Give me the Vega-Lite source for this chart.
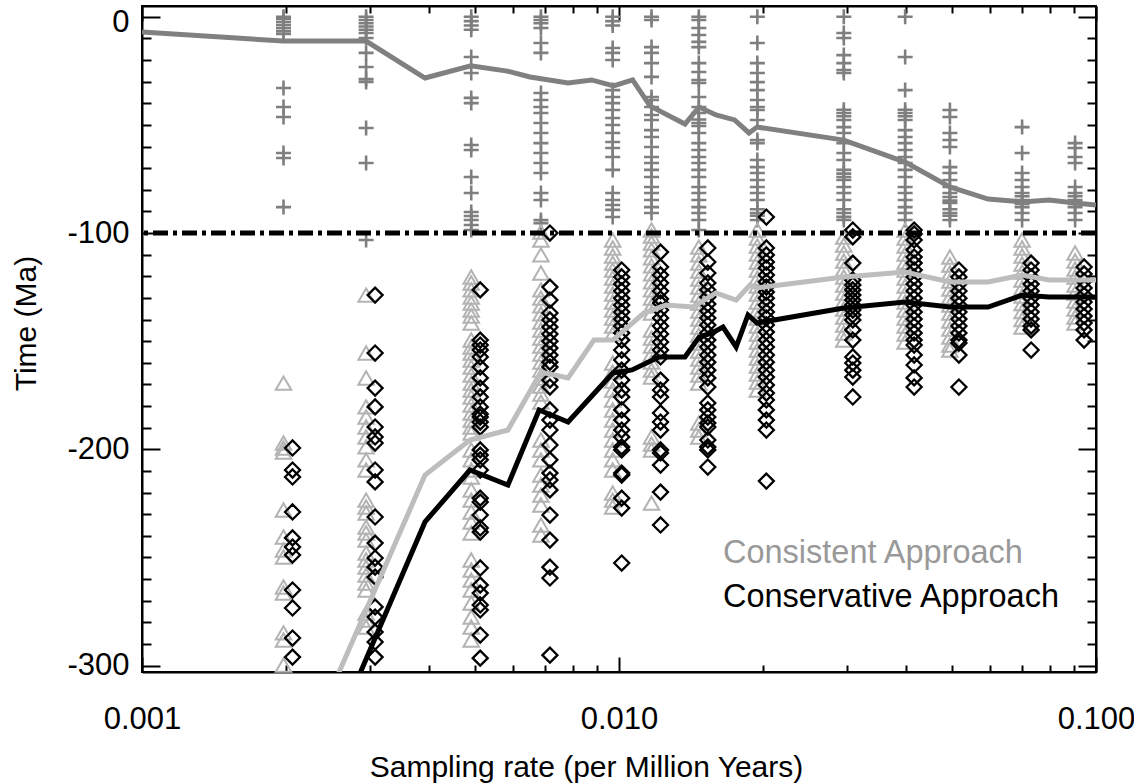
{
"$schema":"https://vega.github.io/schema/vega-lite/v6.json",
"width":954,"height":666,
"autosize":{"type":"none"},
"padding":{"left":142,"top":6,"right":38,"bottom":112},
"background":"white",
"config":{"view":{"stroke":"black","strokeWidth":2},"font":"Liberation Sans"},
"datasets":{
"cross":[
{"x":0.00198,"y":0},{"x":0.00198,"y":-1},{"x":0.00198,"y":-2.4},{"x":0.00198,"y":-3.8},{"x":0.00198,"y":-5.2},{"x":0.00198,"y":-6.6},{"x":0.00198,"y":-7.9},{"x":0.00198,"y":-32.9},{"x":0.00198,"y":-41.7},{"x":0.00198,"y":-46.3},{"x":0.00198,"y":-63},{"x":0.00198,"y":-65.3},{"x":0.00198,"y":-88},
{"x":0.00295,"y":0},{"x":0.00295,"y":-1.5},{"x":0.00295,"y":-3},{"x":0.00295,"y":-4.5},{"x":0.00295,"y":-6},{"x":0.00295,"y":-7.5},{"x":0.00295,"y":-9.8},{"x":0.00295,"y":-16.7},{"x":0.00295,"y":-23.2},{"x":0.00295,"y":-28.8},{"x":0.00295,"y":-30.1},{"x":0.00295,"y":-51.4},{"x":0.00295,"y":-67.6},{"x":0.00295,"y":-103.2},
{"x":0.0049,"y":0},{"x":0.0049,"y":-2},{"x":0.0049,"y":-4},{"x":0.0049,"y":-6},{"x":0.0049,"y":-18.6},{"x":0.0049,"y":-26},{"x":0.0049,"y":-37.5},{"x":0.0049,"y":-39.9},{"x":0.0049,"y":-59.3},{"x":0.0049,"y":-61.6},{"x":0.0049,"y":-74.1},{"x":0.0049,"y":-81.5},{"x":0.0049,"y":-90.3},{"x":0.0049,"y":-92.1},{"x":0.0049,"y":-94},{"x":0.0049,"y":-96.3},{"x":0.0049,"y":-98.6},
{"x":0.00686,"y":0},{"x":0.00686,"y":-1.5},{"x":0.00686,"y":-3},{"x":0.00686,"y":-5.2},{"x":0.00686,"y":-12.1},{"x":0.00686,"y":-16.7},{"x":0.00686,"y":-35.2},{"x":0.00686,"y":-38.5},{"x":0.00686,"y":-41.7},{"x":0.00686,"y":-44.5},{"x":0.00686,"y":-49.1},{"x":0.00686,"y":-53.7},{"x":0.00686,"y":-58.4},{"x":0.00686,"y":-63},{"x":0.00686,"y":-67.6},{"x":0.00686,"y":-72.2},{"x":0.00686,"y":-81.5},{"x":0.00686,"y":-84.7},{"x":0.00686,"y":-94},{"x":0.00686,"y":-95.4},
{"x":0.0097,"y":0},{"x":0.0097,"y":-2},{"x":0.0097,"y":-4},{"x":0.0097,"y":-14.4},{"x":0.0097,"y":-16.7},{"x":0.0097,"y":-20},{"x":0.0097,"y":-33.9},{"x":0.0097,"y":-37.1},{"x":0.0097,"y":-39.9},{"x":0.0097,"y":-43.1},{"x":0.0097,"y":-46.8},{"x":0.0097,"y":-50},{"x":0.0097,"y":-53.7},{"x":0.0097,"y":-57.9},{"x":0.0097,"y":-60.7},{"x":0.0097,"y":-64.8},{"x":0.0097,"y":-70.8},{"x":0.0097,"y":-81.5},{"x":0.0097,"y":-84.7},{"x":0.0097,"y":-87},{"x":0.0097,"y":-89.3},{"x":0.0097,"y":-92.6},
{"x":0.0117,"y":0},{"x":0.0117,"y":-1.5},{"x":0.0117,"y":-14},{"x":0.0117,"y":-16.7},{"x":0.0117,"y":-21.4},{"x":0.0117,"y":-27.8},{"x":0.0117,"y":-37.1},{"x":0.0117,"y":-38.5},{"x":0.0117,"y":-41.7},{"x":0.0117,"y":-45.4},{"x":0.0117,"y":-47.7},{"x":0.0117,"y":-52.4},{"x":0.0117,"y":-55.6},{"x":0.0117,"y":-60.2},{"x":0.0117,"y":-64.8},{"x":0.0117,"y":-67.6},{"x":0.0117,"y":-70.8},{"x":0.0117,"y":-74.1},{"x":0.0117,"y":-78.7},{"x":0.0117,"y":-81.5},{"x":0.0117,"y":-84.7},{"x":0.0117,"y":-88},{"x":0.0117,"y":-90.7},
{"x":0.0147,"y":0},{"x":0.0147,"y":-1.5},{"x":0.0147,"y":-5.2},{"x":0.0147,"y":-8.4},{"x":0.0147,"y":-11.6},{"x":0.0147,"y":-14},{"x":0.0147,"y":-21.4},{"x":0.0147,"y":-25.5},{"x":0.0147,"y":-29.2},{"x":0.0147,"y":-30.6},{"x":0.0147,"y":-37.1},{"x":0.0147,"y":-41.7},{"x":0.0147,"y":-44.5},{"x":0.0147,"y":-47.5},{"x":0.0147,"y":-49.1},{"x":0.0147,"y":-50.5},{"x":0.0147,"y":-53.7},{"x":0.0147,"y":-58.4},{"x":0.0147,"y":-61.6},{"x":0.0147,"y":-64.8},{"x":0.0147,"y":-67.6},{"x":0.0147,"y":-70.8},{"x":0.0147,"y":-74.1},{"x":0.0147,"y":-78.7},{"x":0.0147,"y":-81.5},{"x":0.0147,"y":-84.7},{"x":0.0147,"y":-88},{"x":0.0147,"y":-90.7},{"x":0.0147,"y":-94},{"x":0.0147,"y":-98.6},
{"x":0.0195,"y":0},{"x":0.0195,"y":-12.1},{"x":0.0195,"y":-21.4},{"x":0.0195,"y":-26},{"x":0.0195,"y":-30.2},{"x":0.0195,"y":-33.9},{"x":0.0195,"y":-38.5},{"x":0.0195,"y":-41.7},{"x":0.0195,"y":-43.1},{"x":0.0195,"y":-47.7},{"x":0.0195,"y":-57},{"x":0.0195,"y":-58.4},{"x":0.0195,"y":-66.2},{"x":0.0195,"y":-69.5},{"x":0.0195,"y":-72.2},{"x":0.0195,"y":-75.5},{"x":0.0195,"y":-78.7},{"x":0.0195,"y":-81.5},{"x":0.0195,"y":-84.7},{"x":0.0195,"y":-89},{"x":0.0195,"y":-90.7},{"x":0.0195,"y":-92},{"x":0.0195,"y":-94},
{"x":0.0296,"y":0},{"x":0.0296,"y":-7.5},{"x":0.0296,"y":-9.8},{"x":0.0296,"y":-17.7},{"x":0.0296,"y":-21.4},{"x":0.0296,"y":-24.6},{"x":0.0296,"y":-26},{"x":0.0296,"y":-43},{"x":0.0296,"y":-44.5},{"x":0.0296,"y":-46},{"x":0.0296,"y":-47.7},{"x":0.0296,"y":-51},{"x":0.0296,"y":-53.7},{"x":0.0296,"y":-58.4},{"x":0.0296,"y":-63},{"x":0.0296,"y":-66.2},{"x":0.0296,"y":-70.8},{"x":0.0296,"y":-72.5},{"x":0.0296,"y":-74.1},{"x":0.0296,"y":-75.5},{"x":0.0296,"y":-78.7},{"x":0.0296,"y":-81.5},{"x":0.0296,"y":-84.7},{"x":0.0296,"y":-89},{"x":0.0296,"y":-90.7},{"x":0.0296,"y":-92.5},{"x":0.0296,"y":-94},
{"x":0.0398,"y":0},{"x":0.0398,"y":-18.6},{"x":0.0398,"y":-33.9},{"x":0.0398,"y":-43},{"x":0.0398,"y":-44.5},{"x":0.0398,"y":-46},{"x":0.0398,"y":-47.7},{"x":0.0398,"y":-52.4},{"x":0.0398,"y":-55.6},{"x":0.0398,"y":-58.4},{"x":0.0398,"y":-61.6},{"x":0.0398,"y":-64.8},{"x":0.0398,"y":-67.6},{"x":0.0398,"y":-70.8},{"x":0.0398,"y":-74.1},{"x":0.0398,"y":-78.7},{"x":0.0398,"y":-81.5},{"x":0.0398,"y":-84.7},{"x":0.0398,"y":-88},{"x":0.0398,"y":-90.7},{"x":0.0398,"y":-94},
{"x":0.0494,"y":-43.1},{"x":0.0494,"y":-46.3},{"x":0.0494,"y":-53.7},{"x":0.0494,"y":-57},{"x":0.0494,"y":-60.2},{"x":0.0494,"y":-69.5},{"x":0.0494,"y":-72.2},{"x":0.0494,"y":-75.5},{"x":0.0494,"y":-78.7},{"x":0.0494,"y":-81.5},{"x":0.0494,"y":-83.3},{"x":0.0494,"y":-85},{"x":0.0494,"y":-86.1},{"x":0.0494,"y":-89},{"x":0.0494,"y":-90.7},{"x":0.0494,"y":-92},{"x":0.0494,"y":-94},
{"x":0.07,"y":-51},{"x":0.07,"y":-63},{"x":0.07,"y":-72.2},{"x":0.07,"y":-75.5},{"x":0.07,"y":-78.7},{"x":0.07,"y":-81.5},{"x":0.07,"y":-83},{"x":0.07,"y":-84.7},{"x":0.07,"y":-86.5},{"x":0.07,"y":-88},{"x":0.07,"y":-90.7},{"x":0.07,"y":-94},
{"x":0.0904,"y":-58.4},{"x":0.0904,"y":-60.7},{"x":0.0904,"y":-64.8},{"x":0.0904,"y":-67.6},{"x":0.0904,"y":-78.7},{"x":0.0904,"y":-81.5},{"x":0.0904,"y":-83},{"x":0.0904,"y":-84.7},{"x":0.0904,"y":-86.5},{"x":0.0904,"y":-88},{"x":0.0904,"y":-90.7},{"x":0.0904,"y":-94}
],
"tri":[
{"x":0.00198,"y":-169.4},{"x":0.00198,"y":-197.1},{"x":0.00198,"y":-199.4},{"x":0.00198,"y":-201.3},{"x":0.00198,"y":-228.1},{"x":0.00198,"y":-240.6},{"x":0.00198,"y":-246.6},{"x":0.00198,"y":-249.8},{"x":0.00198,"y":-263.7},{"x":0.00198,"y":-266.5},{"x":0.00198,"y":-284.9},{"x":0.00198,"y":-288.2},{"x":0.00198,"y":-299.8},
{"x":0.00295,"y":-128.7},{"x":0.00295,"y":-155.5},{"x":0.00295,"y":-167},{"x":0.00295,"y":-180.4},{"x":0.00295,"y":-185.1},{"x":0.00295,"y":-189.7},{"x":0.00295,"y":-194.3},{"x":0.00295,"y":-198.9},{"x":0.00295,"y":-204.9},{"x":0.00295,"y":-209.6},{"x":0.00295,"y":-223.5},{"x":0.00295,"y":-226.7},{"x":0.00295,"y":-229.5},{"x":0.00295,"y":-236},{"x":0.00295,"y":-238.7},{"x":0.00295,"y":-242},{"x":0.00295,"y":-248},{"x":0.00295,"y":-251.2},{"x":0.00295,"y":-254.5},{"x":0.00295,"y":-258.2},{"x":0.00295,"y":-261.9},{"x":0.00295,"y":-265.1},{"x":0.00295,"y":-275.7},{"x":0.00295,"y":-279},{"x":0.00295,"y":-282.2},
{"x":0.0049,"y":-120.3},{"x":0.0049,"y":-123.1},{"x":0.0049,"y":-126.3},{"x":0.0049,"y":-129.6},{"x":0.0049,"y":-132.4},{"x":0.0049,"y":-135.6},{"x":0.0049,"y":-138.4},{"x":0.0049,"y":-141.6},{"x":0.0049,"y":-149.5},{"x":0.0049,"y":-152.7},{"x":0.0049,"y":-155.5},{"x":0.0049,"y":-158.7},{"x":0.0049,"y":-162},{"x":0.0049,"y":-165.7},{"x":0.0049,"y":-169.4},{"x":0.0049,"y":-172.6},{"x":0.0049,"y":-175.8},{"x":0.0049,"y":-179.5},{"x":0.0049,"y":-183.2},{"x":0.0049,"y":-186.5},{"x":0.0049,"y":-189.7},{"x":0.0049,"y":-192.5},{"x":0.0049,"y":-200.3},{"x":0.0049,"y":-204.9},{"x":0.0049,"y":-209.6},{"x":0.0049,"y":-212.8},{"x":0.0049,"y":-218.8},{"x":0.0049,"y":-223.5},{"x":0.0049,"y":-229},{"x":0.0049,"y":-233.6},{"x":0.0049,"y":-238.7},{"x":0.0049,"y":-251.2},{"x":0.0049,"y":-255.8},{"x":0.0049,"y":-260.5},{"x":0.0049,"y":-265.1},{"x":0.0049,"y":-271.1},{"x":0.0049,"y":-277.6},{"x":0.0049,"y":-282.2},{"x":0.0049,"y":-288.2},
{"x":0.00686,"y":-99.5},{"x":0.00686,"y":-103.2},{"x":0.00686,"y":-110.1},{"x":0.00686,"y":-118.5},{"x":0.00686,"y":-126.3},{"x":0.00686,"y":-130.1},{"x":0.00686,"y":-133.7},{"x":0.00686,"y":-137.4},{"x":0.00686,"y":-141.1},{"x":0.00686,"y":-144.8},{"x":0.00686,"y":-148.5},{"x":0.00686,"y":-152.2},{"x":0.00686,"y":-155.9},{"x":0.00686,"y":-159.7},{"x":0.00686,"y":-163.4},{"x":0.00686,"y":-167},{"x":0.00686,"y":-170.7},{"x":0.00686,"y":-174.4},{"x":0.00686,"y":-178.2},{"x":0.00686,"y":-195.7},{"x":0.00686,"y":-200.3},{"x":0.00686,"y":-204.9},{"x":0.00686,"y":-211.9},{"x":0.00686,"y":-216.5},{"x":0.00686,"y":-221.2},{"x":0.00686,"y":-225.8},{"x":0.00686,"y":-235},{"x":0.00686,"y":-239.7},
{"x":0.0097,"y":-103.2},{"x":0.0097,"y":-106.9},{"x":0.0097,"y":-110.6},{"x":0.0097,"y":-113.9},{"x":0.0097,"y":-117.1},{"x":0.0097,"y":-120.8},{"x":0.0097,"y":-124.5},{"x":0.0097,"y":-128.2},{"x":0.0097,"y":-131.9},{"x":0.0097,"y":-135.6},{"x":0.0097,"y":-139.3},{"x":0.0097,"y":-143},{"x":0.0097,"y":-146.7},{"x":0.0097,"y":-160.1},{"x":0.0097,"y":-164.3},{"x":0.0097,"y":-168.4},{"x":0.0097,"y":-172.6},{"x":0.0097,"y":-177.2},{"x":0.0097,"y":-181.8},{"x":0.0097,"y":-186.5},{"x":0.0097,"y":-191.1},{"x":0.0097,"y":-195.7},{"x":0.0097,"y":-200.3},{"x":0.0097,"y":-204.9},{"x":0.0097,"y":-209.6},{"x":0.0097,"y":-220.2},{"x":0.0097,"y":-223.5},{"x":0.0097,"y":-226.7},
{"x":0.0117,"y":-98.6},{"x":0.0117,"y":-101.4},{"x":0.0117,"y":-104.6},{"x":0.0117,"y":-107.8},{"x":0.0117,"y":-111.5},{"x":0.0117,"y":-115.2},{"x":0.0117,"y":-118.9},{"x":0.0117,"y":-122.6},{"x":0.0117,"y":-126.3},{"x":0.0117,"y":-130.1},{"x":0.0117,"y":-133.7},{"x":0.0117,"y":-137},{"x":0.0117,"y":-144.8},{"x":0.0117,"y":-148.5},{"x":0.0117,"y":-152.2},{"x":0.0117,"y":-155.9},{"x":0.0117,"y":-159.7},{"x":0.0117,"y":-163.4},{"x":0.0117,"y":-166.6},{"x":0.0117,"y":-194.3},{"x":0.0117,"y":-197.6},{"x":0.0117,"y":-200.3},{"x":0.0117,"y":-224.9},
{"x":0.0147,"y":-106.5},{"x":0.0147,"y":-110.1},{"x":0.0147,"y":-113.9},{"x":0.0147,"y":-117.6},{"x":0.0147,"y":-121.3},{"x":0.0147,"y":-125},{"x":0.0147,"y":-128.7},{"x":0.0147,"y":-132.4},{"x":0.0147,"y":-136.1},{"x":0.0147,"y":-139.8},{"x":0.0147,"y":-143.5},{"x":0.0147,"y":-147.2},{"x":0.0147,"y":-150.9},{"x":0.0147,"y":-154.6},{"x":0.0147,"y":-158.3},{"x":0.0147,"y":-162},{"x":0.0147,"y":-165.7},{"x":0.0147,"y":-169.4},{"x":0.0147,"y":-187.9},{"x":0.0147,"y":-191.1},{"x":0.0147,"y":-194.3},
{"x":0.0195,"y":-98.6},{"x":0.0195,"y":-102.3},{"x":0.0195,"y":-106},{"x":0.0195,"y":-109.7},{"x":0.0195,"y":-113.4},{"x":0.0195,"y":-117.1},{"x":0.0195,"y":-120.8},{"x":0.0195,"y":-124.5},{"x":0.0195,"y":-128.2},{"x":0.0195,"y":-131.9},{"x":0.0195,"y":-135.6},{"x":0.0195,"y":-139.3},{"x":0.0195,"y":-143},{"x":0.0195,"y":-146.7},{"x":0.0195,"y":-150.4},{"x":0.0195,"y":-154.1},{"x":0.0195,"y":-157.8},{"x":0.0195,"y":-161.5},{"x":0.0195,"y":-165.2},{"x":0.0195,"y":-168.9},{"x":0.0195,"y":-172.6},
{"x":0.0296,"y":-101.8},{"x":0.0296,"y":-105.5},{"x":0.0296,"y":-109.2},{"x":0.0296,"y":-112.9},{"x":0.0296,"y":-116.6},{"x":0.0296,"y":-120.3},{"x":0.0296,"y":-124},{"x":0.0296,"y":-127.7},{"x":0.0296,"y":-131.4},{"x":0.0296,"y":-135.1},{"x":0.0296,"y":-138.8},{"x":0.0296,"y":-142.5},{"x":0.0296,"y":-146.2},{"x":0.0296,"y":-149.5},
{"x":0.0398,"y":-98.6},{"x":0.0398,"y":-102.3},{"x":0.0398,"y":-106},{"x":0.0398,"y":-109.7},{"x":0.0398,"y":-113.4},{"x":0.0398,"y":-117.1},{"x":0.0398,"y":-120.8},{"x":0.0398,"y":-124.5},{"x":0.0398,"y":-128.2},{"x":0.0398,"y":-131.9},{"x":0.0398,"y":-135.6},{"x":0.0398,"y":-139.3},{"x":0.0398,"y":-143},{"x":0.0398,"y":-146.7},{"x":0.0398,"y":-150.4},
{"x":0.0494,"y":-111.1},{"x":0.0494,"y":-114.8},{"x":0.0494,"y":-118.5},{"x":0.0494,"y":-122.2},{"x":0.0494,"y":-125.9},{"x":0.0494,"y":-129.6},{"x":0.0494,"y":-133.3},{"x":0.0494,"y":-137},{"x":0.0494,"y":-140.7},{"x":0.0494,"y":-144.4},{"x":0.0494,"y":-148.1},{"x":0.0494,"y":-151.8},{"x":0.0494,"y":-154.1},
{"x":0.07,"y":-103.2},{"x":0.07,"y":-106.9},{"x":0.07,"y":-110.6},{"x":0.07,"y":-114.3},{"x":0.07,"y":-118},{"x":0.07,"y":-121.7},{"x":0.07,"y":-125.4},{"x":0.07,"y":-129.1},{"x":0.07,"y":-132.6},{"x":0.07,"y":-136.3},{"x":0.07,"y":-140},{"x":0.07,"y":-143.5},
{"x":0.0904,"y":-109.2},{"x":0.0904,"y":-112.9},{"x":0.0904,"y":-116.6},{"x":0.0904,"y":-120.3},{"x":0.0904,"y":-124},{"x":0.0904,"y":-127.7},{"x":0.0904,"y":-131.4},{"x":0.0904,"y":-135.1},{"x":0.0904,"y":-138.8},{"x":0.0904,"y":-141.6}
],
"dia":[
{"x":0.00198,"y":-199.4},{"x":0.00198,"y":-209.6},{"x":0.00198,"y":-212.8},{"x":0.00198,"y":-229},{"x":0.00198,"y":-241},{"x":0.00198,"y":-245.2},{"x":0.00198,"y":-248.9},{"x":0.00198,"y":-265.1},{"x":0.00198,"y":-273.4},{"x":0.00198,"y":-287.3},{"x":0.00198,"y":-296.1},
{"x":0.00295,"y":-128.7},{"x":0.00295,"y":-155.5},{"x":0.00295,"y":-171.7},{"x":0.00295,"y":-180.4},{"x":0.00295,"y":-189.7},{"x":0.00295,"y":-194.3},{"x":0.00295,"y":-197.1},{"x":0.00295,"y":-209.6},{"x":0.00295,"y":-215.1},{"x":0.00295,"y":-231.3},{"x":0.00295,"y":-243.4},{"x":0.00295,"y":-250.3},{"x":0.00295,"y":-254.5},{"x":0.00295,"y":-259.1},{"x":0.00295,"y":-272.9},{"x":0.00295,"y":-277.6},{"x":0.00295,"y":-284.5},{"x":0.00295,"y":-289.1},{"x":0.00295,"y":-296.1},
{"x":0.0049,"y":-126.3},{"x":0.0049,"y":-149.5},{"x":0.0049,"y":-151.8},{"x":0.0049,"y":-154.1},{"x":0.0049,"y":-157.3},{"x":0.0049,"y":-162},{"x":0.0049,"y":-167},{"x":0.0049,"y":-171.7},{"x":0.0049,"y":-175.8},{"x":0.0049,"y":-180.4},{"x":0.0049,"y":-183.7},{"x":0.0049,"y":-185.1},{"x":0.0049,"y":-187.4},{"x":0.0049,"y":-189.7},{"x":0.0049,"y":-200.3},{"x":0.0049,"y":-202.7},{"x":0.0049,"y":-204.9},{"x":0.0049,"y":-209.6},{"x":0.0049,"y":-222.6},{"x":0.0049,"y":-224.4},{"x":0.0049,"y":-230.4},{"x":0.0049,"y":-236.4},{"x":0.0049,"y":-238.3},{"x":0.0049,"y":-254.9},{"x":0.0049,"y":-262.8},{"x":0.0049,"y":-266.5},{"x":0.0049,"y":-272},{"x":0.0049,"y":-274.3},{"x":0.0049,"y":-285.9},{"x":0.0049,"y":-296.6},
{"x":0.00686,"y":-100},{"x":0.00686,"y":-125},{"x":0.00686,"y":-131},{"x":0.00686,"y":-137},{"x":0.00686,"y":-140.2},{"x":0.00686,"y":-143.5},{"x":0.00686,"y":-146.7},{"x":0.00686,"y":-150},{"x":0.00686,"y":-153.2},{"x":0.00686,"y":-156.4},{"x":0.00686,"y":-159.7},{"x":0.00686,"y":-162},{"x":0.00686,"y":-168},{"x":0.00686,"y":-171.2},{"x":0.00686,"y":-181.8},{"x":0.00686,"y":-186.5},{"x":0.00686,"y":-191.1},{"x":0.00686,"y":-198},{"x":0.00686,"y":-204.9},{"x":0.00686,"y":-211},{"x":0.00686,"y":-214.2},{"x":0.00686,"y":-218.8},{"x":0.00686,"y":-230.4},{"x":0.00686,"y":-242},{"x":0.00686,"y":-254.5},{"x":0.00686,"y":-259.5},{"x":0.00686,"y":-295.2},
{"x":0.0097,"y":-117.1},{"x":0.0097,"y":-120.3},{"x":0.0097,"y":-123.6},{"x":0.0097,"y":-126.8},{"x":0.0097,"y":-130.1},{"x":0.0097,"y":-133.3},{"x":0.0097,"y":-136.5},{"x":0.0097,"y":-139.8},{"x":0.0097,"y":-143},{"x":0.0097,"y":-146.2},{"x":0.0097,"y":-149.5},{"x":0.0097,"y":-154.1},{"x":0.0097,"y":-158.7},{"x":0.0097,"y":-163.4},{"x":0.0097,"y":-168},{"x":0.0097,"y":-172.6},{"x":0.0097,"y":-175.8},{"x":0.0097,"y":-181.8},{"x":0.0097,"y":-186.5},{"x":0.0097,"y":-191.1},{"x":0.0097,"y":-194.3},{"x":0.0097,"y":-198.9},{"x":0.0097,"y":-200.3},{"x":0.0097,"y":-211},{"x":0.0097,"y":-211.9},{"x":0.0097,"y":-222.6},{"x":0.0097,"y":-227.2},{"x":0.0097,"y":-252.6},
{"x":0.0117,"y":-108.8},{"x":0.0117,"y":-115.7},{"x":0.0117,"y":-119.4},{"x":0.0117,"y":-123.1},{"x":0.0117,"y":-126.8},{"x":0.0117,"y":-130.5},{"x":0.0117,"y":-132.4},{"x":0.0117,"y":-135.6},{"x":0.0117,"y":-139.3},{"x":0.0117,"y":-143},{"x":0.0117,"y":-146.7},{"x":0.0117,"y":-150.4},{"x":0.0117,"y":-154.1},{"x":0.0117,"y":-157.3},{"x":0.0117,"y":-168},{"x":0.0117,"y":-172.6},{"x":0.0117,"y":-175.8},{"x":0.0117,"y":-183.2},{"x":0.0117,"y":-187.4},{"x":0.0117,"y":-191.1},{"x":0.0117,"y":-200.3},{"x":0.0117,"y":-201.7},{"x":0.0117,"y":-207.3},{"x":0.0117,"y":-219.8},{"x":0.0117,"y":-235},
{"x":0.0147,"y":-106.9},{"x":0.0147,"y":-113.4},{"x":0.0147,"y":-118.5},{"x":0.0147,"y":-123.1},{"x":0.0147,"y":-126.3},{"x":0.0147,"y":-129.6},{"x":0.0147,"y":-132.8},{"x":0.0147,"y":-136.1},{"x":0.0147,"y":-139.3},{"x":0.0147,"y":-142.5},{"x":0.0147,"y":-146.2},{"x":0.0147,"y":-149.5},{"x":0.0147,"y":-152.7},{"x":0.0147,"y":-156.4},{"x":0.0147,"y":-159.7},{"x":0.0147,"y":-163.4},{"x":0.0147,"y":-167},{"x":0.0147,"y":-171.2},{"x":0.0147,"y":-178.6},{"x":0.0147,"y":-181.8},{"x":0.0147,"y":-185.1},{"x":0.0147,"y":-187.9},{"x":0.0147,"y":-189.7},{"x":0.0147,"y":-195.7},{"x":0.0147,"y":-198.9},{"x":0.0147,"y":-200.3},{"x":0.0147,"y":-208.2},
{"x":0.0195,"y":-92.6},{"x":0.0195,"y":-106.9},{"x":0.0195,"y":-110.1},{"x":0.0195,"y":-113.4},{"x":0.0195,"y":-116.2},{"x":0.0195,"y":-119.4},{"x":0.0195,"y":-122.6},{"x":0.0195,"y":-125},{"x":0.0195,"y":-127.3},{"x":0.0195,"y":-130.1},{"x":0.0195,"y":-133.3},{"x":0.0195,"y":-136.5},{"x":0.0195,"y":-139.3},{"x":0.0195,"y":-142.5},{"x":0.0195,"y":-145.8},{"x":0.0195,"y":-149.5},{"x":0.0195,"y":-152.7},{"x":0.0195,"y":-156.4},{"x":0.0195,"y":-159.7},{"x":0.0195,"y":-163.4},{"x":0.0195,"y":-166.6},{"x":0.0195,"y":-170.3},{"x":0.0195,"y":-174},{"x":0.0195,"y":-177.2},{"x":0.0195,"y":-181.8},{"x":0.0195,"y":-186.5},{"x":0.0195,"y":-191.1},{"x":0.0195,"y":-214.7},
{"x":0.0296,"y":-98.6},{"x":0.0296,"y":-101.8},{"x":0.0296,"y":-113.9},{"x":0.0296,"y":-121.7},{"x":0.0296,"y":-124},{"x":0.0296,"y":-126.3},{"x":0.0296,"y":-128.7},{"x":0.0296,"y":-131},{"x":0.0296,"y":-133.3},{"x":0.0296,"y":-135.6},{"x":0.0296,"y":-137.9},{"x":0.0296,"y":-140.2},{"x":0.0296,"y":-144.8},{"x":0.0296,"y":-149.5},{"x":0.0296,"y":-157.3},{"x":0.0296,"y":-160.1},{"x":0.0296,"y":-163.4},{"x":0.0296,"y":-166.6},{"x":0.0296,"y":-175.8},
{"x":0.0398,"y":-98.6},{"x":0.0398,"y":-100.4},{"x":0.0398,"y":-103.2},{"x":0.0398,"y":-107.8},{"x":0.0398,"y":-111.1},{"x":0.0398,"y":-113.9},{"x":0.0398,"y":-117.1},{"x":0.0398,"y":-120.3},{"x":0.0398,"y":-123.6},{"x":0.0398,"y":-126.8},{"x":0.0398,"y":-130.1},{"x":0.0398,"y":-133.3},{"x":0.0398,"y":-136.5},{"x":0.0398,"y":-139.8},{"x":0.0398,"y":-143},{"x":0.0398,"y":-146.2},{"x":0.0398,"y":-149.5},{"x":0.0398,"y":-151.8},{"x":0.0398,"y":-156.4},{"x":0.0398,"y":-161},{"x":0.0398,"y":-167},{"x":0.0398,"y":-171.2},
{"x":0.0494,"y":-117.1},{"x":0.0494,"y":-120.3},{"x":0.0494,"y":-123.6},{"x":0.0494,"y":-126.8},{"x":0.0494,"y":-130.1},{"x":0.0494,"y":-133.3},{"x":0.0494,"y":-136.5},{"x":0.0494,"y":-139.8},{"x":0.0494,"y":-143},{"x":0.0494,"y":-146.2},{"x":0.0494,"y":-149.5},{"x":0.0494,"y":-150.9},{"x":0.0494,"y":-156.4},{"x":0.0494,"y":-171.2},
{"x":0.07,"y":-113.9},{"x":0.07,"y":-117.1},{"x":0.07,"y":-120.3},{"x":0.07,"y":-123.6},{"x":0.07,"y":-126.8},{"x":0.07,"y":-130.1},{"x":0.07,"y":-133.3},{"x":0.07,"y":-136.5},{"x":0.07,"y":-139.8},{"x":0.07,"y":-143},{"x":0.07,"y":-144.8},{"x":0.07,"y":-154.1},
{"x":0.0904,"y":-115.7},{"x":0.0904,"y":-118.9},{"x":0.0904,"y":-122.2},{"x":0.0904,"y":-125.4},{"x":0.0904,"y":-128.7},{"x":0.0904,"y":-131.9},{"x":0.0904,"y":-135.1},{"x":0.0904,"y":-138.4},{"x":0.0904,"y":-141.6},{"x":0.0904,"y":-144.8},{"x":0.0904,"y":-149.5}
],
"lines":[
{"s":"top","x":0.001,"y":-7},{"s":"top","x":0.00198,"y":-11.2},{"s":"top","x":0.00295,"y":-11.2},{"s":"top","x":0.00392,"y":-28.3},{"s":"top","x":0.00489,"y":-22.7},{"s":"top","x":0.00583,"y":-25.1},{"s":"top","x":0.00651,"y":-27.8},{"s":"top","x":0.00782,"y":-30.6},{"s":"top","x":0.00876,"y":-29.2},{"s":"top","x":0.00974,"y":-32},{"s":"top","x":0.01068,"y":-29.2},{"s":"top","x":0.01161,"y":-41.2},{"s":"top","x":0.01375,"y":-49.6},{"s":"top","x":0.01472,"y":-41.7},{"s":"top","x":0.01597,"y":-45.4},{"s":"top","x":0.01747,"y":-47.7},{"s":"top","x":0.01873,"y":-53.7},{"s":"top","x":0.01947,"y":-51},{"s":"top","x":0.0296,"y":-57},{"s":"top","x":0.0398,"y":-67.2},{"s":"top","x":0.0494,"y":-78.7},{"s":"top","x":0.0594,"y":-84.3},{"s":"top","x":0.07,"y":-85.6},{"s":"top","x":0.0797,"y":-84.7},{"s":"top","x":0.0904,"y":-86.1},{"s":"top","x":0.1,"y":-87},
{"s":"cons","x":0.00198,"y":-362},{"s":"cons","x":0.00392,"y":-211.9},{"s":"cons","x":0.00487,"y":-195.7},{"s":"cons","x":0.00585,"y":-191.1},{"s":"cons","x":0.00686,"y":-164.3},{"s":"cons","x":0.00782,"y":-167},{"s":"cons","x":0.00886,"y":-149.5},{"s":"cons","x":0.00971,"y":-149.5},{"s":"cons","x":0.01128,"y":-137},{"s":"cons","x":0.01255,"y":-133.3},{"s":"cons","x":0.01429,"y":-134.2},{"s":"cons","x":0.01597,"y":-127.7},{"s":"cons","x":0.0176,"y":-131},{"s":"cons","x":0.01882,"y":-124},{"s":"cons","x":0.01947,"y":-125.4},{"s":"cons","x":0.0296,"y":-120.3},{"s":"cons","x":0.0398,"y":-118},{"s":"cons","x":0.0494,"y":-122.6},{"s":"cons","x":0.0594,"y":-122.6},{"s":"cons","x":0.07,"y":-119.4},{"s":"cons","x":0.0797,"y":-121.7},{"s":"cons","x":0.1,"y":-121.7},
{"s":"cnsv","x":0.00198,"y":-386},{"s":"cnsv","x":0.00392,"y":-233.6},{"s":"cnsv","x":0.00487,"y":-209.6},{"s":"cnsv","x":0.00585,"y":-216.5},{"s":"cnsv","x":0.0068,"y":-181.8},{"s":"cnsv","x":0.00782,"y":-187.4},{"s":"cnsv","x":0.00971,"y":-164.7},{"s":"cnsv","x":0.01065,"y":-163.3},{"s":"cnsv","x":0.01213,"y":-157.3},{"s":"cnsv","x":0.01375,"y":-157.3},{"s":"cnsv","x":0.01472,"y":-148.1},{"s":"cnsv","x":0.01567,"y":-146.2},{"s":"cnsv","x":0.01652,"y":-143.5},{"s":"cnsv","x":0.0176,"y":-152.7},{"s":"cnsv","x":0.01864,"y":-137.9},{"s":"cnsv","x":0.01947,"y":-141.6},{"s":"cnsv","x":0.0296,"y":-134.7},{"s":"cnsv","x":0.0398,"y":-131.9},{"s":"cnsv","x":0.0494,"y":-134.2},{"s":"cnsv","x":0.0594,"y":-134.2},{"s":"cnsv","x":0.07,"y":-128.7},{"s":"cnsv","x":0.0797,"y":-129.6},{"s":"cnsv","x":0.1,"y":-129.6}
],
"labels":[
{"label":"Consistent Approach","x":0.01652,"y":-252.6},
{"label":"Conservative Approach","x":0.01652,"y":-272.9}
]
},
"layer":[
{
"data":{"name":"cross"},
"mark":{"type":"point","shape":"M-1,0H1M0,-1V1","filled":false,"color":"#7f7f7f","strokeWidth":2.6,"size":225,"opacity":1},
"encoding":{
"x":{"field":"x","type":"quantitative","scale":{"type":"log","domain":[0.001,0.1],"nice":false},
"axis":{"orient":"bottom","values":[0.001,0.002,0.003,0.004,0.005,0.006,0.007,0.008,0.009,0.01,0.02,0.03,0.04,0.05,0.06,0.07,0.08,0.09,0.1],
"labelExpr":"abs(log(datum.value)/LN10 - round(log(datum.value)/LN10)) < 0.001 ? format(datum.value, '.3f') : ''",
"tickSize":{"condition":{"test":"abs(log(datum.value)/LN10 - round(log(datum.value)/LN10)) < 0.001","value":-15},"value":-7},
"tickWidth":2,"tickColor":"black","domainColor":"black","domainWidth":2,"grid":false,
"labelFont":"Liberation Sans","labelFontSize":31,"labelColor":"black","labelPadding":47,"labelFlush":false,"labelOverlap":false,"labelBaseline":"top",
"title":"Sampling rate (per Million Years)","titleFont":"Liberation Sans","titleFontSize":30,"titleFontWeight":"normal","titleColor":"black","titleX":444,"titleY":104,"titleBaseline":"alphabetic","titleAlign":"center"}},
"y":{"field":"y","type":"quantitative","scale":{"domain":[-303,5],"nice":false,"zero":false},
"axis":{"orient":"left","values":[0,-10,-20,-30,-40,-50,-60,-70,-80,-90,-100,-110,-120,-130,-140,-150,-160,-170,-180,-190,-200,-210,-220,-230,-240,-250,-260,-270,-280,-290,-300],
"labelExpr":"datum.value % 100 == 0 ? (datum.value == 0 ? '0' : '-' + format(-datum.value, 'd')) : ''",
"tickSize":{"condition":{"test":"datum.value % 100 == 0","value":-18},"value":-9},
"labelOffset":{"condition":{"test":"datum.value == 0","value":6},"value":0},
"tickWidth":2,"tickColor":"black","domainColor":"black","domainWidth":2,"grid":false,
"labelFont":"Liberation Sans","labelFontSize":31,"labelColor":"black","labelPadding":31,"labelFlush":false,"labelOverlap":false,"labelBound":false,
"title":"Time (Ma)","titleFont":"Liberation Sans","titleFontSize":30,"titleFontWeight":"normal","titleColor":"black","titleX":-107,"titleY":317,"titleAngle":-90,"titleBaseline":"alphabetic","titleAlign":"center"}}
}
},
{
"data":{"name":"tri"},
"mark":{"type":"point","shape":"triangle-up","filled":false,"color":"#b3b3b3","strokeWidth":2,"size":240,"opacity":1},
"encoding":{
"x":{"field":"x","type":"quantitative","scale":{"type":"log","domain":[0.001,0.1],"nice":false},
"axis":{"orient":"top","values":[0.001,0.002,0.003,0.004,0.005,0.006,0.007,0.008,0.009,0.01,0.02,0.03,0.04,0.05,0.06,0.07,0.08,0.09,0.1],"labels":false,
"tickSize":{"condition":{"test":"abs(log(datum.value)/LN10 - round(log(datum.value)/LN10)) < 0.001","value":-15},"value":-7},
"tickWidth":2,"tickColor":"black","domainColor":"black","domainWidth":2,"grid":false,"title":null}},
"y":{"field":"y","type":"quantitative","scale":{"domain":[-303,5],"nice":false,"zero":false},
"axis":{"orient":"right","values":[0,-10,-20,-30,-40,-50,-60,-70,-80,-90,-100,-110,-120,-130,-140,-150,-160,-170,-180,-190,-200,-210,-220,-230,-240,-250,-260,-270,-280,-290,-300],"labels":false,
"tickSize":{"condition":{"test":"datum.value % 100 == 0","value":-18},"value":-9},
"tickWidth":2,"tickColor":"black","domainColor":"black","domainWidth":2,"grid":false,"title":null}}
}
},
{
"data":{"name":"dia"},
"mark":{"type":"point","shape":"diamond","filled":false,"color":"black","strokeWidth":2.3,"size":225,"opacity":1,"xOffset":9},
"encoding":{
"x":{"field":"x","type":"quantitative","scale":{"type":"log","domain":[0.001,0.1],"nice":false},"axis":null},
"y":{"field":"y","type":"quantitative","scale":{"domain":[-303,5],"nice":false,"zero":false},"axis":null}
}
},
{
"data":{"name":"lines"},
"mark":{"type":"line","strokeWidth":5,"clip":true},
"encoding":{
"x":{"field":"x","type":"quantitative","scale":{"type":"log","domain":[0.001,0.1],"nice":false},"axis":null},
"y":{"field":"y","type":"quantitative","scale":{"domain":[-303,5],"nice":false,"zero":false},"axis":null},
"color":{"field":"s","type":"nominal","scale":{"domain":["top","cons","cnsv"],"range":["#808080","#bdbdbd","#000000"]},"legend":null}
}
},
{
"data":{"values":[{"y":-100}]},
"mark":{"type":"rule","color":"black","strokeWidth":5,"strokeDash":[15,5,4,5]},
"encoding":{
"y":{"field":"y","type":"quantitative","scale":{"domain":[-303,5],"nice":false,"zero":false},"axis":null}
}
},
{
"data":{"name":"labels"},
"mark":{"type":"text","align":"left","baseline":"alphabetic","font":"Liberation Sans","fontSize":32.5},
"encoding":{
"x":{"field":"x","type":"quantitative","scale":{"type":"log","domain":[0.001,0.1],"nice":false},"axis":null},
"y":{"field":"y","type":"quantitative","scale":{"domain":[-303,5],"nice":false,"zero":false},"axis":null},
"text":{"field":"label"},
"color":{"field":"label","type":"nominal","scale":{"domain":["Consistent Approach","Conservative Approach"],"range":["#999999","#000000"]},"legend":null}
}
}
],
"resolve":{"axis":{"x":"independent","y":"independent"},"scale":{"color":"independent"}}
}
